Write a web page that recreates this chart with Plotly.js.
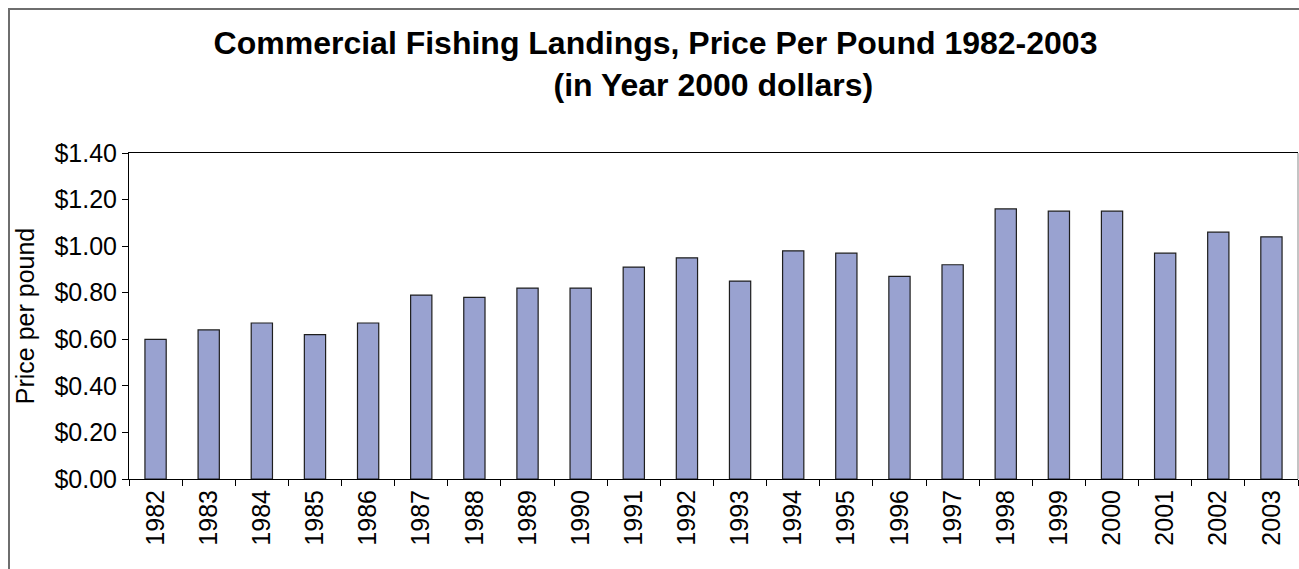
<!DOCTYPE html>
<html>
<head>
<meta charset="utf-8">
<script src="https://cdn.plot.ly/plotly-3.0.1.min.js"></script>
<style>
  html, body { margin: 0; padding: 0; background: #ffffff; }
  #chart { width: 1299px; height: 569px; }
</style>
</head>
<body>
<div id="chart"></div>
<script>
// ---- Data ----
const years = ["1982","1983","1984","1985","1986","1987","1988","1989","1990","1991","1992",
               "1993","1994","1995","1996","1997","1998","1999","2000","2001","2002","2003"];
const pricePerPound = [0.60, 0.64, 0.67, 0.62, 0.67, 0.79, 0.78, 0.82, 0.82, 0.91, 0.95,
                       0.85, 0.98, 0.97, 0.87, 0.92, 1.16, 1.15, 1.15, 0.97, 1.06, 1.04];
const titleLine1 = "Commercial Fishing Landings, Price Per Pound 1982-2003";
const titleLine2 = "(in Year 2000 dollars)";
const yAxisTitle = "Price per pound";

// ---- Layout geometry ----
const W = 1299, H = 569;
const M = { l: 129, r: 1, t: 153, b: 90 };
const PW = W - M.l - M.r, PH = H - M.t - M.b;
const px = x => (x - M.l) / PW;
const py = y => (H - M.b - y) / PH;

const NB = "\u00A0";
const fontFam = "Arial, 'Liberation Sans', Helvetica, sans-serif";

const trace = {
  type: "bar",
  x: years,
  y: pricePerPound,
  marker: { color: "#99A2D0", line: { color: "#1e1e1e", width: 1.2 } },
  hoverinfo: "x+y"
};

const layout = {
  width: W, height: H,
  margin: M,
  paper_bgcolor: "#ffffff",
  plot_bgcolor: "#ffffff",
  showlegend: false,
  bargap: 0.6,
  font: { family: fontFam, color: "#000000" },
  title: {
    text: "<b>" + titleLine1 + "</b><br><b>" + NB.repeat(13) + titleLine2 + "</b>",
    font: { family: fontFam, size: 32, color: "#000000" },
    xref: "container", x: 655.5 / W, xanchor: "center",
    yref: "container", y: 1 - 54 / H, yanchor: "top"
  },
  xaxis: {
    type: "category",
    tickangle: -90,
    tickson: "boundaries",
    ticks: "outside", ticklen: 6, tickcolor: "#000000", tickwidth: 1,
    showline: true, linecolor: "#000000", linewidth: 1,
    mirror: true,
    showgrid: false, zeroline: false,
    tickfont: { family: fontFam, size: 25, color: "#000000" }
  },
  yaxis: {
    range: [0, 1.4],
    dtick: 0.2, tick0: 0,
    tickformat: "$.2f",
    ticks: "outside", ticklen: 6, tickcolor: "#000000", tickwidth: 1,
    showline: true, linecolor: "#000000", linewidth: 1,
    showgrid: false, zeroline: false,
    tickfont: { family: fontFam, size: 25, color: "#000000" },
    title: { text: yAxisTitle, font: { family: fontFam, size: 25, color: "#000000" }, standoff: 12 }
  },
  shapes: [
    { type: "rect", xref: "paper", yref: "paper",
      x0: px(9), x1: px(1310), y0: py(9), y1: py(600),
      line: { color: "#6e6e6e", width: 2 }, fillcolor: "rgba(0,0,0,0)", layer: "above" },
    { type: "line", xref: "paper", yref: "paper",
      x0: 1, x1: 1, y0: 0, y1: 1,
      line: { color: "#b0b0b0", width: 1.5 }, layer: "above" }
  ]
};

Plotly.newPlot("chart", [trace], layout, { displayModeBar: false, staticPlot: true });
</script>
</body>
</html>
